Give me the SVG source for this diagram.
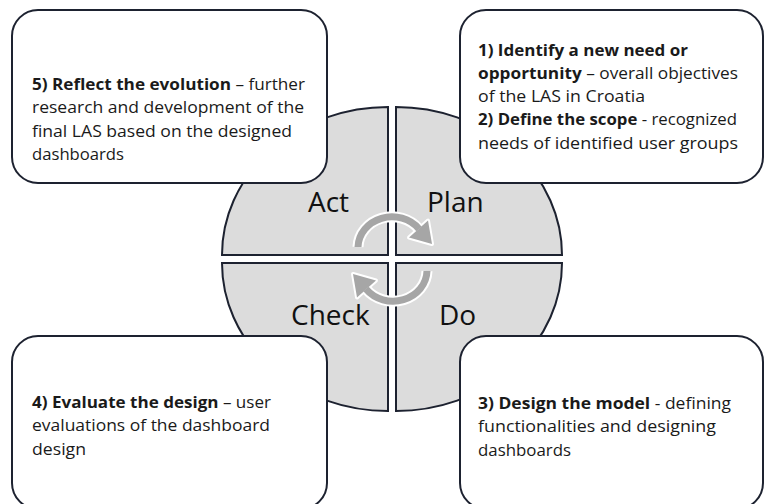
<svg xmlns="http://www.w3.org/2000/svg" width="766" height="504" viewBox="0 0 766 504">
  <style>
    .quad { fill: #dcdcdc; stroke: #1d2230; stroke-width: 2; }
    .box { fill: #ffffff; stroke: #1d2230; stroke-width: 2; }
    .txt { font-family: "Open Sans", "Noto Sans", sans-serif; font-size: 16.5px; fill: #1a1a1a; }
    .b { font-weight: bold; }
    .phase { font-family: "Open Sans", "Noto Sans", sans-serif; font-size: 28px; fill: #111111; }
    .arc { fill: none; stroke-linecap: butt; }
  </style>
  <defs>
    <!-- curved arrow: grey band with white edging -->
    <g id="cycle-arrow">
      <path d="M358,247 A34,31 0 0 1 419,229" class="arc" stroke="#ffffff" stroke-width="11"/>
      <path d="M418,229.5 L428,220.5 L432,244 L409,237.5 Z" fill="#ffffff" stroke="#ffffff" stroke-width="4" stroke-linejoin="round"/>
      <path d="M358,247 A34,31 0 0 1 419,229" class="arc" stroke="#a6a6a6" stroke-width="7"/>
      <path d="M418,229.5 L428,220.5 L432,244 L409,237.5 Z" fill="#a6a6a6"/>
    </g>
  </defs>

  <!-- PDCA circle split into four quarters -->
  <g id="act">
    <path class="quad" d="M388,255 L222,255 A166,148 0 0 1 388,107 Z"/>
    <text class="phase" x="308" y="212">Act</text>
  </g>
  <g id="plan">
    <path class="quad" d="M396,255 L396,107 A166,148 0 0 1 562,255 Z"/>
    <text class="phase" x="427" y="212">Plan</text>
  </g>
  <g id="check">
    <path class="quad" d="M388,263 L388,411 A166,148 0 0 1 222,263 Z"/>
    <text class="phase" x="291" y="325">Check</text>
  </g>
  <g id="do">
    <path class="quad" d="M396,263 L562,263 A166,148 0 0 1 396,411 Z"/>
    <text class="phase" x="439" y="325">Do</text>
  </g>

  <!-- cycle arrows in the centre -->
  <g id="connectors">
    <use href="#cycle-arrow"/>
    <use href="#cycle-arrow" transform="rotate(180 392.5 259)"/>
  </g>

  <!-- step descriptions -->
  <g id="step5">
    <rect class="box" x="12" y="10" width="315" height="173" rx="26"/>
    <text class="txt" x="32" y="90" textLength="273" lengthAdjust="spacingAndGlyphs"><tspan class="b">5) Reflect the evolution</tspan> – further</text>
    <text class="txt" x="32" y="113" textLength="272" lengthAdjust="spacingAndGlyphs">research and development of the</text>
    <text class="txt" x="32" y="137" textLength="260" lengthAdjust="spacingAndGlyphs">final LAS based on the designed</text>
    <text class="txt" x="32" y="160" textLength="92" lengthAdjust="spacingAndGlyphs">dashboards</text>
  </g>
  <g id="step1-2">
    <rect class="box" x="460" y="10" width="303" height="173" rx="26"/>
    <text class="txt" x="478" y="56" textLength="210" lengthAdjust="spacingAndGlyphs"><tspan class="b">1) Identify a new need or</tspan></text>
    <text class="txt" x="478" y="79" textLength="260" lengthAdjust="spacingAndGlyphs"><tspan class="b">opportunity</tspan> – overall objectives</text>
    <text class="txt" x="478" y="102" textLength="167" lengthAdjust="spacingAndGlyphs">of the LAS in Croatia</text>
    <text class="txt" x="478" y="125" textLength="259" lengthAdjust="spacingAndGlyphs"><tspan class="b">2) Define the scope</tspan> - recognized</text>
    <text class="txt" x="478" y="149" textLength="260" lengthAdjust="spacingAndGlyphs">needs of identified user groups</text>
  </g>
  <g id="step4">
    <rect class="box" x="12" y="336" width="315" height="173" rx="26"/>
    <text class="txt" x="32" y="408" textLength="239" lengthAdjust="spacingAndGlyphs"><tspan class="b">4) Evaluate the design</tspan> – user</text>
    <text class="txt" x="32" y="431" textLength="238" lengthAdjust="spacingAndGlyphs">evaluations of the dashboard</text>
    <text class="txt" x="32" y="455" textLength="54" lengthAdjust="spacingAndGlyphs">design</text>
  </g>
  <g id="step3">
    <rect class="box" x="460" y="336" width="303" height="173" rx="26"/>
    <text class="txt" x="478" y="409" textLength="253" lengthAdjust="spacingAndGlyphs"><tspan class="b">3) Design the model</tspan> - defining</text>
    <text class="txt" x="478" y="432" textLength="238" lengthAdjust="spacingAndGlyphs">functionalities and designing</text>
    <text class="txt" x="478" y="456" textLength="93" lengthAdjust="spacingAndGlyphs">dashboards</text>
  </g>
</svg>
